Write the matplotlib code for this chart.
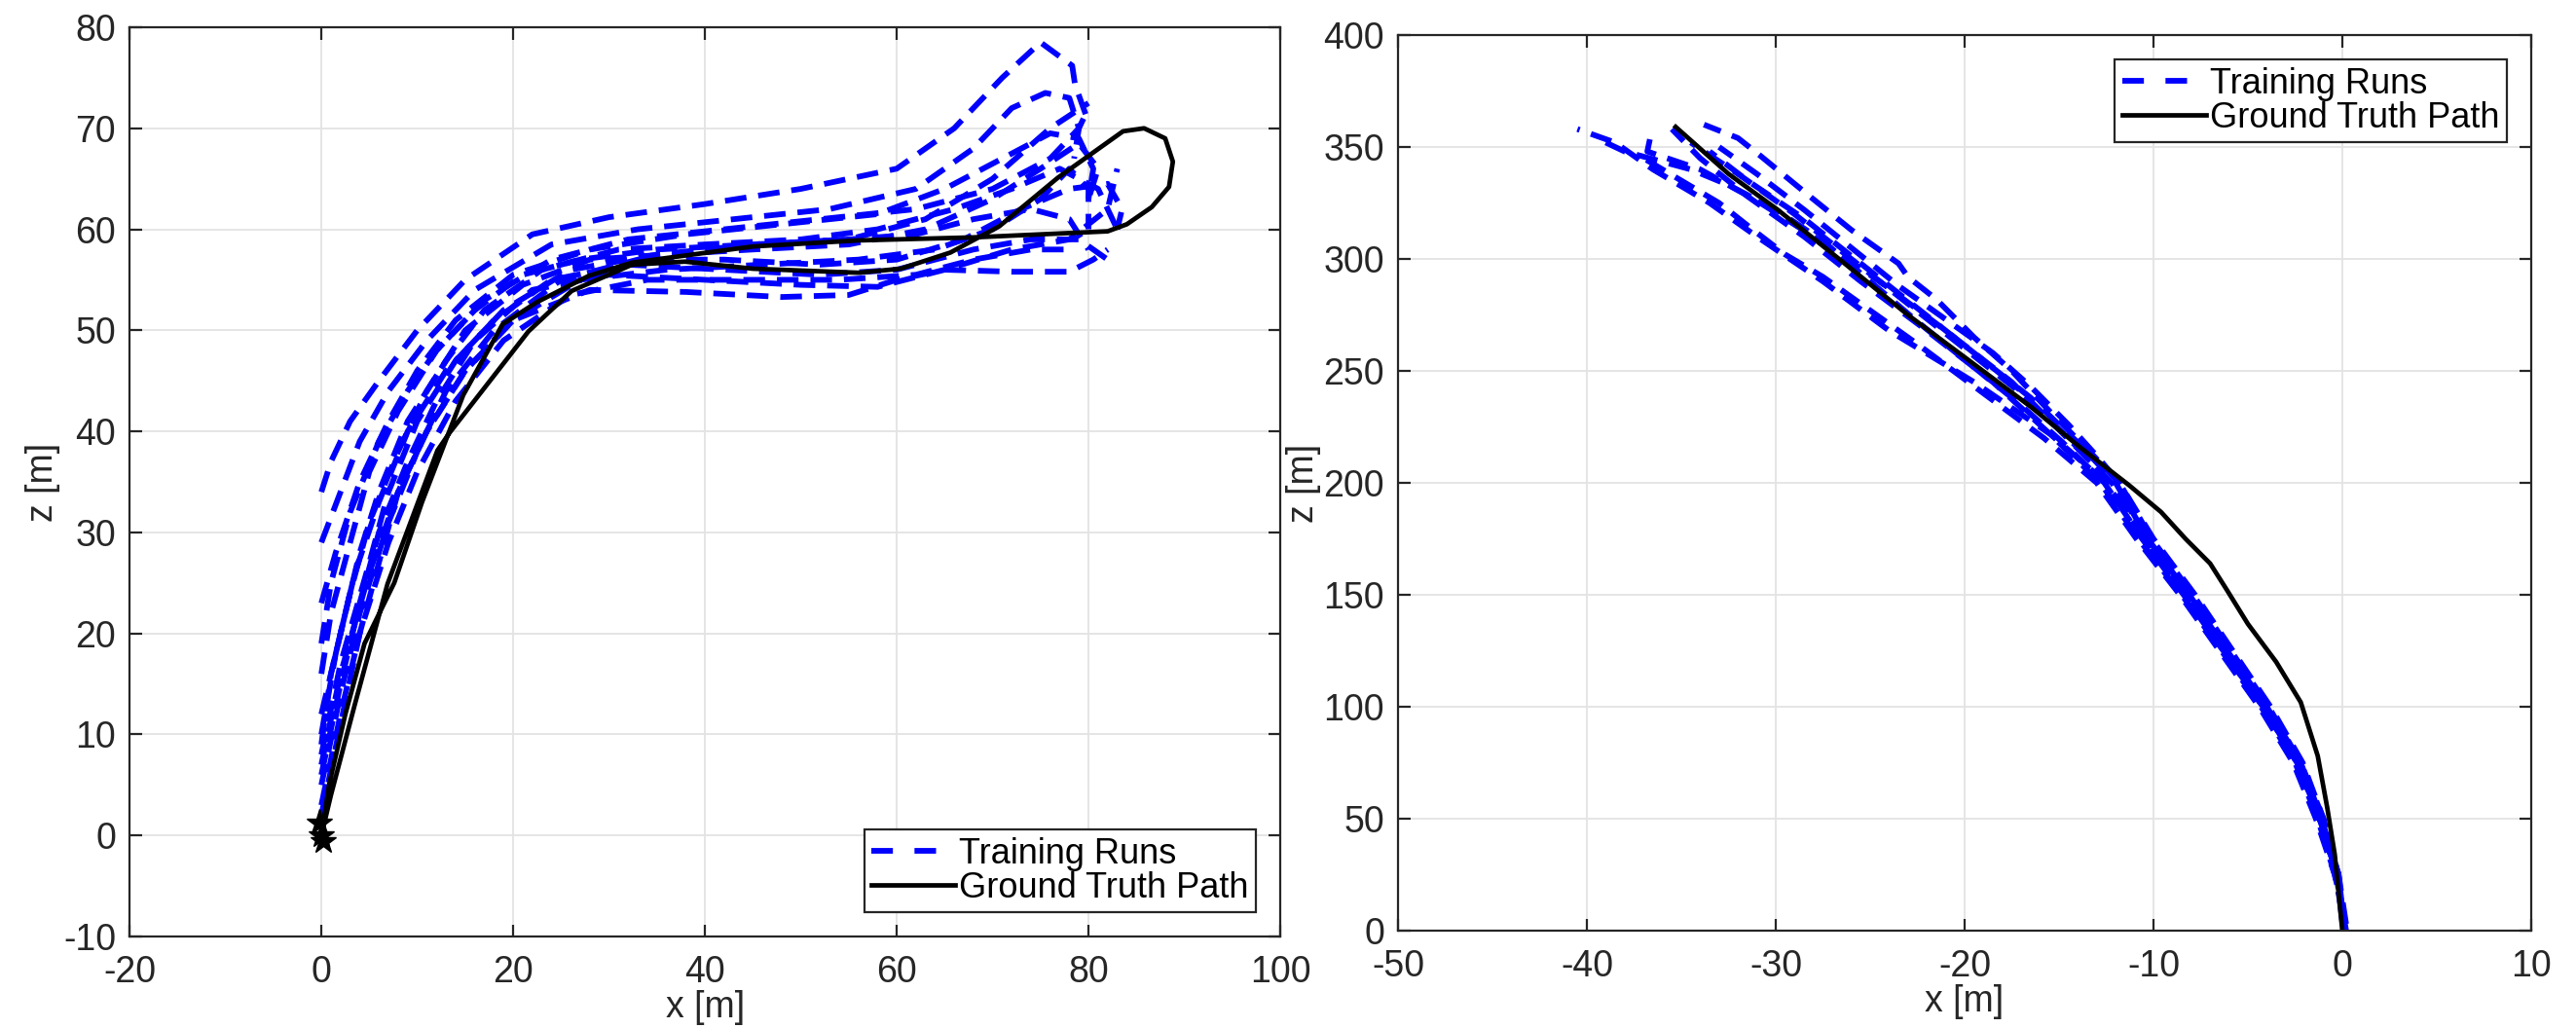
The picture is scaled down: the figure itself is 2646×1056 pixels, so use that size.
import matplotlib
matplotlib.use('Agg')
import matplotlib.pyplot as plt
from matplotlib.lines import Line2D

plt.rcParams['font.family'] = ['Liberation Sans', 'DejaVu Sans']
plt.rcParams['axes.unicode_minus'] = False

# ---- left panel: training runs (x, z in metres) ----
left_runs_x = [
    [0, 1, 3, 6, 10, 15, 22, 30, 40, 50, 60, 66, 71, 75, 78.3, 78.6, 79.7],
    [0, 2, 4, 7, 11, 16, 24, 33, 43, 53, 62, 68, 72, 75.5, 78, 79, 78.5],
    [0, 1.5, 4, 7, 10, 14, 20, 28, 38, 48, 58, 65, 71, 76, 79, 80.5, 80],
    [0, 1, 3, 5, 8, 11, 15, 21, 28, 36, 45, 55, 63, 70, 75, 79, 81, 80],
    [0, 2, 4, 7, 10, 13, 18, 25, 33, 42, 52, 60, 67, 73, 78, 82, 83.5, 83],
    [0, 2, 5, 7, 10, 14, 19, 26, 35, 45, 55, 62, 68, 74, 78, 80],
    [0, 2, 4, 6, 9, 12, 16, 22, 30, 40, 50, 58, 65, 72, 78, 82, 83],
    [0, 2, 4, 6, 8, 11, 15, 20, 28, 38, 48, 55, 60, 65, 72, 78, 80.5, 82],
    [0, 1.5, 3.5, 6, 9, 13, 18, 24, 32, 42, 52, 60, 68, 74, 79, 82],
    [0, 2, 4, 6, 9, 13, 17, 23, 31, 40, 50, 58, 66, 72, 77, 81, 83],
    [0, 1, 3, 5, 8, 12, 17, 24, 32, 42, 52, 62, 70, 76, 79, 80],
    [0, 2, 4, 7, 10, 14, 19, 26, 34, 44, 54, 62, 68, 74, 78],
    [0, 1, 3, 6, 9, 12, 16, 21, 27, 35, 45, 55, 63, 70, 76, 80],
    [0, 2, 5, 8, 11, 15, 20, 27, 36, 46, 56, 64, 70, 75, 78, 80, 80],
]
left_runs_z = [
    [34, 37, 41, 45, 50, 55, 59.5, 61.2, 62.5, 64, 66, 70, 75, 78.5, 76.2, 74.3, 71.4],
    [29, 34, 39, 44, 49, 54, 58.5, 60, 61, 62, 64, 68, 72, 73.5, 73, 70, 67],
    [23, 28, 35, 41, 46, 51, 55.5, 58, 59.5, 60.5, 61.5, 64, 67, 69.5, 69, 66, 63],
    [9, 16, 24, 31, 38, 44, 50, 54.5, 57, 57.5, 58, 58.5, 60, 63, 66, 68.5, 66, 63],
    [5, 14, 22, 31, 38, 44, 50, 55, 57, 57, 56.5, 57, 59, 62, 64, 64.5, 62, 60],
    [8, 17, 27, 34, 41, 47, 52, 56, 57.5, 58.5, 59, 59.5, 61, 62, 61, 58],
    [6, 15, 23, 30, 37, 43, 49, 54, 55.5, 55, 54.5, 54.3, 56, 58, 59, 62, 66],
    [3, 12, 20, 27, 34, 40, 46, 51, 54, 53.8, 53.3, 53.5, 55, 56, 55.8, 55.8, 57, 58],
    [10, 18, 26, 33, 40, 46, 51, 55, 56.5, 56, 55.5, 56, 58, 59, 59, 57],
    [12, 20, 28, 34, 41, 47, 52, 56, 58, 58.5, 59, 60, 62, 64, 66, 64, 60],
    [16, 22, 29, 36, 42, 48, 53, 57, 59, 60, 61, 62, 64, 67, 70, 72],
    [2, 11, 20, 29, 36, 43, 49, 53.5, 55, 55, 55, 55.5, 57, 58, 58],
    [19, 25, 32, 39, 44, 48, 52, 55.5, 57, 58, 58.5, 59, 61, 65, 70, 72.5],
    [7, 16, 26, 34, 40, 46, 51, 55, 56, 56.5, 57, 58, 60, 63, 66, 64, 60],
]

# left panel: ground truth loop
gt_left_x = [0, 0.8, 2.5, 4.5, 7.6, 10.5, 14.8, 18.9, 22.5, 27.9, 32.4, 45, 56, 68, 82,
             84, 86.6, 88.4, 88.8, 88, 85.8, 83.6, 80.2, 76.8, 70.7, 65.6, 60.4, 56, 45,
             37.9, 32.4, 26.1, 21.6, 13.4, 12.1, 6.9, 3.5, 1, 0]
gt_left_z = [0, 5, 12, 19, 25, 33, 43.6, 50.6, 52.8, 55.4, 56.7, 58.3, 58.9, 59.2, 59.8,
             60.5, 62.2, 64.2, 66.7, 69, 70, 69.7, 67.4, 65.1, 60.3, 57.7, 56.1, 55.7, 56.1,
             56.8, 56.5, 53.9, 49.9, 39.9, 38.1, 24.9, 13, 4, 0]
start_x = [-0.2, 0, 0.2]
start_z = [1.3, 0, -0.6]

# ---- right panel ----
right_runs_x = [
    [0.1, -0.3, -1.2, -2.4, -4.2, -6.3, -8.3, -10.5, -12.5, -15.5, -19.5, -24, -27.5, -31, -33.5, -36.5, -38.5, -40.5],
    [0.2, -0.2, -1.1, -2.3, -4, -6, -8, -10.2, -12.2, -14.8, -17.5, -21, -24.5, -28, -31, -34, -36.8, -36.6],
    [0, -0.4, -1.3, -2.5, -4.3, -6.4, -8.5, -10.8, -12.8, -15.5, -18.5, -22, -25.5, -28.5, -31.5, -34, -35.5],
    [0.1, -0.2, -1, -2.1, -3.8, -5.8, -7.8, -10, -11.8, -13.5, -15.5, -17.5, -19.5, -21.5, -23, -23.5, -26, -28.2, -30.8, -32, -33.8],
    [0, -0.3, -1.2, -2.3, -4.1, -6.2, -8.2, -10.4, -12.3, -14.5, -17, -20, -23, -26, -29, -32, -34.5],
    [0.1, -0.4, -1.4, -2.6, -4.4, -6.5, -8.6, -10.9, -13, -15.8, -19, -22.5, -25.5, -27.5, -29.5, -31.2, -33, -35, -37],
    [0, -0.2, -1.1, -2.2, -4, -6.1, -8.1, -10.3, -12, -14, -16.5, -19.5, -22.5, -25.5, -28.5, -31.5, -33.5],
    [0.2, -0.3, -1.2, -2.4, -4.2, -6.3, -8.4, -10.6, -12.6, -14.8, -17.2, -20, -22.5, -25, -27.5, -30, -32.5, -34.5, -38, -39],
    [0, -0.2, -1, -2.2, -3.9, -5.9, -7.9, -10.1, -11.8, -13, -14.5, -16.5, -18.5, -21, -23.5, -26, -28.5, -31, -33],
]
right_runs_z = [
    [5, 25, 50, 75, 100, 125, 150, 175, 200, 222, 245, 268, 290, 310, 325, 340, 352, 358],
    [3, 25, 50, 75, 100, 125, 150, 175, 200, 222, 245, 268, 290, 310, 326, 340, 348, 356],
    [8, 25, 50, 75, 100, 125, 150, 175, 200, 222, 245, 268, 290, 310, 328, 345, 358],
    [2, 25, 50, 75, 100, 125, 150, 175, 200, 215, 232, 250, 265, 282, 292, 298, 313, 328, 346, 354, 360],
    [4, 25, 50, 75, 100, 125, 150, 175, 200, 220, 240, 260, 280, 300, 320, 338, 352],
    [6, 25, 50, 75, 100, 125, 150, 175, 200, 220, 240, 262, 280, 292, 302, 313, 325, 335, 345],
    [10, 25, 50, 75, 100, 125, 150, 175, 200, 218, 238, 258, 278, 298, 318, 335, 348],
    [0, 25, 50, 75, 100, 125, 150, 175, 200, 218, 236, 255, 272, 290, 308, 322, 333, 340, 348, 352],
    [5, 25, 50, 75, 100, 125, 150, 175, 200, 212, 226, 243, 258, 273, 288, 305, 322, 338, 350],
]
gt_right_x = [0, -0.4, -0.8, -1.3, -2.2, -3.5, -5, -6.1, -7, -8.3, -9.6, -11.3, -13.9,
              -16.5, -19.5, -23, -26.5, -29.9, -32.5, -35.3]
gt_right_z = [0, 34, 55, 78, 102, 120, 137, 152, 164, 175, 187, 199, 216, 234, 253, 275,
              299, 322, 338, 359]

run_lw = 4.2
gt_lw = 3.4
dash = (0, (3.8, 2.1))
txt = '#262626'

fig = plt.figure(figsize=(26.46, 10.56), dpi=100)
ax1 = fig.add_axes([0.0503, 0.089, 0.4467, 0.8845])
ax2 = fig.add_axes([0.5427, 0.0947, 0.4399, 0.8712])


def style(ax):
    ax.grid(True, color='#e3e3e3', linewidth=1.3)
    ax.set_axisbelow(True)
    for s in ax.spines.values():
        s.set_color(txt)
        s.set_linewidth(1.6)
    ax.tick_params(direction='in', length=9, width=1.6, top=True, right=True,
                   labelsize=27, colors=txt)
    ax.tick_params(axis='x', pad=14)
    ax.tick_params(axis='y', pad=10)
    ax.set_xlabel('x [m]', fontsize=27, color=txt, labelpad=0)
    ax.set_ylabel('z [m]', fontsize=27, color=txt, labelpad=2)


for xs, zs in zip(left_runs_x, left_runs_z):
    ax1.plot(xs, zs, color='blue', linestyle=dash, linewidth=run_lw)
ax1.plot(gt_left_x, gt_left_z, color='black', linewidth=gt_lw)
ax1.plot(start_x, start_z, linestyle='none', marker='*', color='black', markersize=20)
ax1.set_xlim(-20, 100)
ax1.set_ylim(-10, 80)
ax1.set_xticks(range(-20, 101, 20))
ax1.set_yticks(range(-10, 81, 10))
style(ax1)

for xs, zs in zip(right_runs_x, right_runs_z):
    ax2.plot(xs, zs, color='blue', linestyle=dash, linewidth=run_lw)
ax2.plot(gt_right_x, gt_right_z, color='black', linewidth=gt_lw)
ax2.set_xlim(-50, 10)
ax2.set_ylim(0, 400)
ax2.set_xticks(range(-50, 11, 10))
ax2.set_yticks(range(0, 401, 50))
style(ax2)

handles = [Line2D([], [], color='blue', linestyle=(0, (3.8, 3.8)), linewidth=run_lw),
           Line2D([], [], color='black', linewidth=gt_lw)]
labels = ['Training Runs', 'Ground Truth Path']
for ax, loc in [(ax1, 'lower right'), (ax2, 'upper right')]:
    leg = ax.legend(handles, labels, loc=loc, fontsize=26, frameon=True, fancybox=False,
                    edgecolor=txt, framealpha=1, labelspacing=0.0, handlelength=2.4,
                    handletextpad=0.1, borderpad=0.2, borderaxespad=0.7)
    leg.get_frame().set_linewidth(1.6)

fig.savefig('out.png', dpi=100)
